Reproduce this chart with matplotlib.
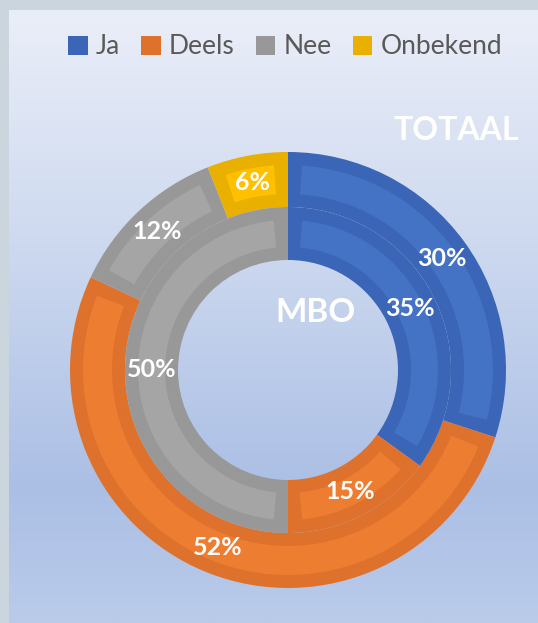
import numpy as np
import matplotlib
matplotlib.use("Agg")
import matplotlib.pyplot as plt
from matplotlib.colors import LinearSegmentedColormap
from matplotlib.patches import Patch, Wedge

# data
categories = ["Ja", "Deels", "Nee", "Onbekend"]
totaal = [30, 52, 12, 6]      # outer ring
mbo = [35, 15, 50, 0]         # inner ring

fill_colors = ["#4472C4", "#ED7D31", "#A5A5A5", "#FFC000"]
edge_colors = ["#3B65B6", "#DE722C", "#989898", "#EAB000"]

plt.rcParams["font.family"] = ["Lato", "DejaVu Sans"]

W, H = 538, 623
fig = plt.figure(figsize=(W / 100, H / 100), dpi=100)
fig.patch.set_facecolor("#CBD5DE")

# panel background with vertical gradient
bg = fig.add_axes([9 / W, 0, 1 - 9 / W, 1 - 10 / H])
bg.set_axis_off()
grad = LinearSegmentedColormap.from_list(
    "bg", [(0, "#EAEEF8"), (0.35, "#D0DBF0"), (0.78, "#ABBFE5"), (1, "#BACBEA")])
bg.imshow(np.linspace(0, 1, 256).reshape(-1, 1), aspect="auto", cmap=grad,
          extent=[0, 1, 0, 1], origin="upper")

ax = fig.add_axes([0, 0, 1, 1])
ax.patch.set_alpha(0)

cx, cy = 288, 370  # centre in pixels from top-left
R_out, R_mid, R_in = 218, 163, 110
inset = 13  # darker border band inside every wedge (px)


def ring(values, radius, width):
    keep = [i for i, v in enumerate(values) if v > 0]
    vals = [values[i] for i in keep]
    wedges, _, texts = ax.pie(
        vals, radius=radius, startangle=90, counterclock=False,
        colors=[edge_colors[i] for i in keep], autopct="%.0f%%",
        pctdistance=(radius - width / 2) / radius,
        wedgeprops=dict(width=width, edgecolor="none"),
        textprops=dict(color="white", fontsize=18, fontweight="bold"))
    d = np.degrees(inset / (radius - width / 2))
    # lighter inner part of each wedge
    for w, i in zip(wedges, keep):
        ax.add_patch(Wedge(w.center, w.r - inset, w.theta1 + d, w.theta2 - d,
                           width=w.width - 2 * inset, facecolor=fill_colors[i],
                           edgecolor="none", zorder=w.get_zorder()))
    return wedges


ring(totaal, R_out, R_out - R_mid)
ring(mbo, R_mid, R_mid - R_in)

ax.set_xlim(-cx, W - cx)
ax.set_ylim(-(H - cy), cy)
ax.set_axis_off()

ax.text(315 - cx, cy - 312, "MBO", color="white", fontsize=24,
        fontweight="bold", ha="center", va="center")
ax.text(456 - cx, cy - 130, "TOTAAL", color="white", fontsize=23,
        fontweight="bold", ha="center", va="center")

handles = [Patch(facecolor=c, edgecolor="none") for c in edge_colors]
fig.legend(handles, categories, loc="center", ncol=4,
           bbox_to_anchor=(285 / W, 1 - 47 / H), frameon=False,
           fontsize=19, labelcolor="#595959", handlelength=0.75,
           handleheight=0.75, handletextpad=0.3, columnspacing=0.8)

fig.savefig("out.png", dpi=100)
